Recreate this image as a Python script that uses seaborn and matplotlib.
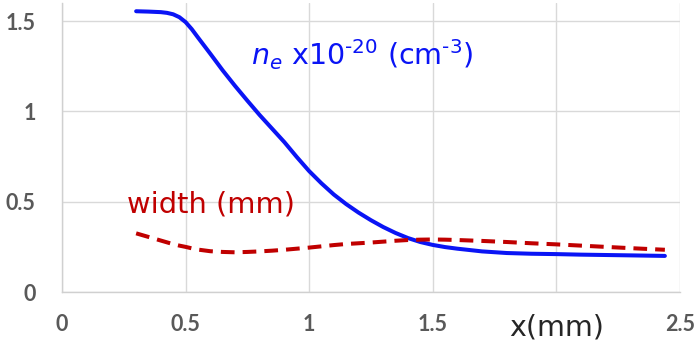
import matplotlib
matplotlib.use("Agg")
import matplotlib.pyplot as plt
import matplotlib.transforms as mtransforms
import seaborn as sns
import pandas as pd

# Position along the sample (mm)
x_mm = [0.30, 0.35, 0.40, 0.425, 0.45, 0.475, 0.50, 0.525, 0.55, 0.60, 0.65, 0.70, 0.75,
        0.80, 0.85, 0.90, 0.95, 1.00, 1.05, 1.10, 1.15, 1.20, 1.25, 1.30, 1.35, 1.40,
        1.45, 1.50, 1.55, 1.60, 1.70, 1.80, 1.90, 2.00, 2.10, 2.20, 2.30, 2.44]
# Electron density, units of 1e20 cm^-3
ne_vals = [1.555, 1.553, 1.550, 1.546, 1.538, 1.522, 1.495, 1.456, 1.41, 1.32, 1.228,
           1.142, 1.06, 0.98, 0.905, 0.83, 0.748, 0.67, 0.602, 0.54, 0.487, 0.44, 0.398,
           0.36, 0.327, 0.299, 0.277, 0.261, 0.249, 0.240, 0.225, 0.216, 0.212, 0.21,
           0.207, 0.205, 0.203, 0.20]
# Channel width (mm)
width_vals = [0.325, 0.305, 0.285, 0.275, 0.265, 0.257, 0.25, 0.242, 0.235, 0.226, 0.222,
              0.22, 0.222, 0.225, 0.229, 0.234, 0.24, 0.246, 0.253, 0.26, 0.266, 0.27,
              0.274, 0.279, 0.284, 0.288, 0.29, 0.291, 0.29, 0.288, 0.283, 0.277, 0.27,
              0.264, 0.257, 0.25, 0.243, 0.234]

x_ticks = [0, 0.5, 1, 1.5, 2, 2.5]
x_ticklabels = ["0", "0.5", "1", "1.5", "", "2.5"]
y_ticks = [0, 0.5, 1, 1.5]
y_ticklabels = ["0", "0.5", "1", "1.5"]

df = pd.DataFrame({"x": x_mm, "ne": ne_vals, "width": width_vals})

sns.set_theme(style="white")
plt.rcParams["font.family"] = ["DejaVu Sans"]
plt.rcParams["mathtext.fontset"] = "dejavusans"

BLUE = "#0a14f5"
RED = "#c00000"

fig = plt.figure(figsize=(7.0, 3.46), dpi=100)
ax = fig.add_axes([0.0886, 0.156, 0.8824, 0.835])

sns.lineplot(data=df, x="x", y="ne", ax=ax, color=BLUE, linewidth=2.9,
             estimator=None, sort=False)
sns.lineplot(data=df, x="x", y="width", ax=ax, color=RED, linewidth=2.9,
             estimator=None, sort=False)
ax.lines[-1].set_dashes((3.4, 2.0))
for ln in ax.lines:
    ln.set_solid_capstyle("round")
    ln.set_solid_joinstyle("round")
    ln.set_dash_capstyle("butt")

ax.set_xlim(0, 2.5)
ax.set_ylim(0, 1.6)
ax.set_xlabel("")
ax.set_ylabel("")

ax.set_xticks(x_ticks)
ax.set_xticklabels(x_ticklabels)
ax.set_yticks(y_ticks)
ax.set_yticklabels(y_ticklabels)
for lab in ax.get_xticklabels() + ax.get_yticklabels():
    lab.set_family(["Lato", "DejaVu Sans"])
    lab.set_fontweight("bold")
    lab.set_fontsize(15.5)
    lab.set_color("#595959")
ax.tick_params(axis="x", length=0, pad=16)
ax.tick_params(axis="y", length=0, pad=19)

ax.grid(True, color="#d9d9d9", linewidth=1.0)
ax.set_axisbelow(True)
for side in ["top", "right"]:
    ax.spines[side].set_visible(False)
for side in ["left", "bottom"]:
    ax.spines[side].set_color("#d0d0d0")
    ax.spines[side].set_linewidth(1.0)

# Axis title sits in the slot of the "2" tick label
trans = mtransforms.blended_transform_factory(ax.transData, ax.transAxes)
ax.text(2.0, -0.149, "x(mm)", transform=trans, ha="center", va="baseline",
        fontsize=20.5, color="#262626")

ax.text(0.765, 1.256, "$n_e$ x10$^{\u201020}$ (cm$^{\u20103}$)", color=BLUE,
        fontsize=20.5, ha="left", va="baseline")
ax.text(0.262, 0.443, "width (mm)", color=RED, fontsize=20.8,
        ha="left", va="baseline")

fig.savefig("out.png", dpi=100)
